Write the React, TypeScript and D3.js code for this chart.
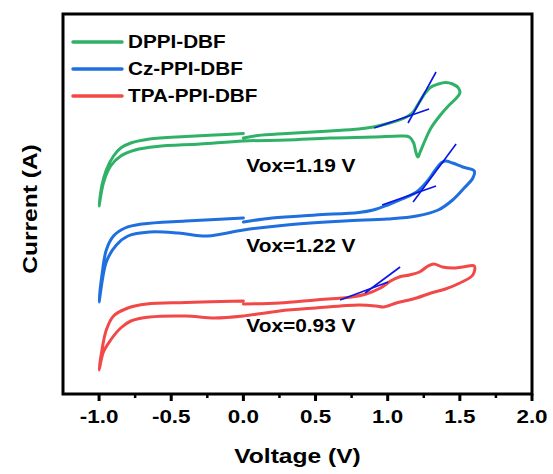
import React from 'react';
import * as d3 from 'd3';

const W = 553;
const H = 474;

const xTicks = [-1.0, -0.5, 0.0, 0.5, 1.0, 1.5, 2.0];
const xMinorTicks = [-0.75, -0.25, 0.25, 0.75, 1.25, 1.75];
const seriesNames = ['DPPI-DBF', 'Cz-PPI-DBF', 'TPA-PPI-DBF'];
const seriesColors = ['#2fb167', '#1f6fdf', '#f24848'];
const voxLabels = ['Vox=1.19 V', 'Vox=1.22 V', 'Vox=0.93 V'];
const voxLabelPos = [[0.02, 222], [0.02, 142], [0.02, 62]];

// DPPI-DBF cyclic voltammogram (V, arbitrary current)
const dppiV = [0.0, 0.1, 0.3, 0.6, 0.8, 0.9, 1.0, 1.1, 1.17, 1.22, 1.26, 1.3, 1.35, 1.4, 1.45, 1.49, 1.5,
  1.47, 1.42, 1.36, 1.3, 1.26, 1.225, 1.21, 1.195, 1.18, 1.15, 1.1, 0.9, 0.6, 0.3, 0.0, -0.3, -0.6, -0.75, -0.85, -0.92, -0.97, -1.0,
  -0.98, -0.95, -0.9, -0.85, -0.78, -0.65, -0.4, -0.2, 0.0];
const dppiI = [256, 258.5, 260.5, 263, 265, 267, 270.5, 275, 281, 292, 301, 307, 310, 311.5, 310, 306, 301,
  295, 288, 278, 266, 254, 242, 237, 242, 251, 257, 258, 257, 256, 254, 253, 250, 247.5, 244, 238, 228, 211, 188,
  209, 224, 238, 246, 251, 255, 257.5, 259, 260.5];

// Cz-PPI-DBF
const czV = [0.0, 0.2, 0.5, 0.8, 0.9, 1.0, 1.1, 1.2, 1.27, 1.33, 1.37, 1.4, 1.45, 1.52, 1.6,
  1.59, 1.53, 1.45, 1.35, 1.2, 1.0, 0.7, 0.3, 0.0, -0.25, -0.45, -0.65, -0.8, -0.88, -0.95, -1.0,
  -0.98, -0.95, -0.9, -0.82, -0.7, -0.4, 0.0];
const czI = [172, 176, 179, 181.5, 184, 189, 195, 202, 212, 224, 231, 233, 231, 227, 223,
  216, 206, 194, 184, 178, 175, 173, 169, 164, 158, 161, 162, 158, 149, 132, 92,
  119, 144, 158, 166, 170, 173, 176];

// TPA-PPI-DBF
const tpaV = [0.0, 0.25, 0.5, 0.75, 0.85, 0.95, 1.02, 1.08, 1.15, 1.22, 1.28, 1.32, 1.38, 1.45, 1.52, 1.6,
  1.59, 1.5, 1.4, 1.3, 1.2, 1.06, 0.97, 0.92, 0.8, 0.5, 0.25, 0.0, -0.2, -0.4, -0.65, -0.78, -0.85, -0.92, -0.97, -1.0,
  -0.98, -0.95, -0.9, -0.8, -0.67, -0.4, 0.0];
const tpaI = [90, 91, 94, 97, 100, 106, 113, 117, 119, 122, 128, 130, 127, 126, 127, 128,
  119, 111, 105, 101, 96, 91, 87, 88, 89, 86, 83, 78, 76, 78, 77, 73, 66, 54, 42, 24,
  44, 64, 78, 86, 90, 91.5, 93];

// Tangent lines for onset determination: [v1, i1, v2, i2]
const tangentLines = [
  [0.906, 266, 1.287, 285], [1.141, 271, 1.335, 322],
  [0.961, 189, 1.335, 208], [1.176, 192, 1.474, 250],
  [0.67, 94, 1.003, 112], [0.843, 101, 1.086, 127],
];

const seriesV = [dppiV, czV, tpaV];
const seriesI = [dppiI, czI, tpaI];

const PL = 63, PR = 532, PT = 14, PB = 394;
const FONT = "'Liberation Sans', Arial, sans-serif";

function SText({ x, y, sx = 1.16, size, anchor = 'start', rotate = 0, children }: any) {
  return (
    <text
      transform={`translate(${x},${y}) rotate(${rotate}) scale(${sx},1)`}
      fontFamily={FONT}
      fontWeight="bold"
      fontSize={size}
      textAnchor={anchor}
      fill="#000"
    >
      {children}
    </text>
  );
}

export default function App() {
  const x = d3.scaleLinear().domain([-1.25, 2.0]).range([PL, PR]);
  const y = d3.scaleLinear().domain([0, 380]).range([PB, PT]);
  const line = d3
    .line<[number, number]>()
    .x((d) => x(d[0]))
    .y((d) => y(d[1]))
    .curve(d3.curveCatmullRom.alpha(0.5));

  return (
    <svg width={W} height={H} style={{ position: 'absolute', left: 0, top: 0, background: '#fff' }}>
      <rect x={0} y={0} width={W} height={H} fill="#fff" />
      {seriesV.map((vs, si) => (
        <path
          key={si}
          d={line(vs.map((v, k) => [v, seriesI[si][k]]) as [number, number][]) || ''}
          fill="none"
          stroke={seriesColors[si]}
          strokeWidth={3}
          strokeLinejoin="round"
          strokeLinecap="round"
        />
      ))}
      {tangentLines.map((t, k) => (
        <line key={k} x1={x(t[0])} y1={y(t[1])} x2={x(t[2])} y2={y(t[3])} stroke="#0a14e6" strokeWidth={1.6} />
      ))}
      {voxLabels.map((s, k) => (
        <SText key={k} x={x(voxLabelPos[k][0])} y={y(voxLabelPos[k][1])} size={18} sx={1.16}>
          {s}
        </SText>
      ))}
      {/* legend */}
      {seriesNames.map((s, k) => (
        <g key={k}>
          <line x1={73} x2={122} y1={42 + k * 27} y2={42 + k * 27} stroke={seriesColors[k]} strokeWidth={3.5} strokeLinecap="round" />
          <SText x={128} y={48 + k * 27} size={18} sx={1.15}>
            {s}
          </SText>
        </g>
      ))}
      {/* frame */}
      <rect x={PL} y={PT} width={PR - PL} height={PB - PT} fill="none" stroke="#000" strokeWidth={3} />
      {/* ticks */}
      {xTicks.map((t) => (
        <g key={t}>
          <line x1={x(t)} x2={x(t)} y1={PB} y2={PB + 7} stroke="#000" strokeWidth={3} />
          <SText x={x(t)} y={423} size={19} sx={1.18} anchor="middle">
            {t.toFixed(1)}
          </SText>
        </g>
      ))}
      {xMinorTicks.map((t) => (
        <line key={t} x1={x(t)} x2={x(t)} y1={PB} y2={PB + 4} stroke="#000" strokeWidth={2.5} />
      ))}
      <SText x={(PL + PR) / 2} y={463} size={21} sx={1.17} anchor="middle">
        Voltage (V)
      </SText>
      <SText x={37} y={(PT + PB) / 2 + 5} size={21} sx={1.17} anchor="middle" rotate={-90}>
        Current (A)
      </SText>
    </svg>
  );
}
